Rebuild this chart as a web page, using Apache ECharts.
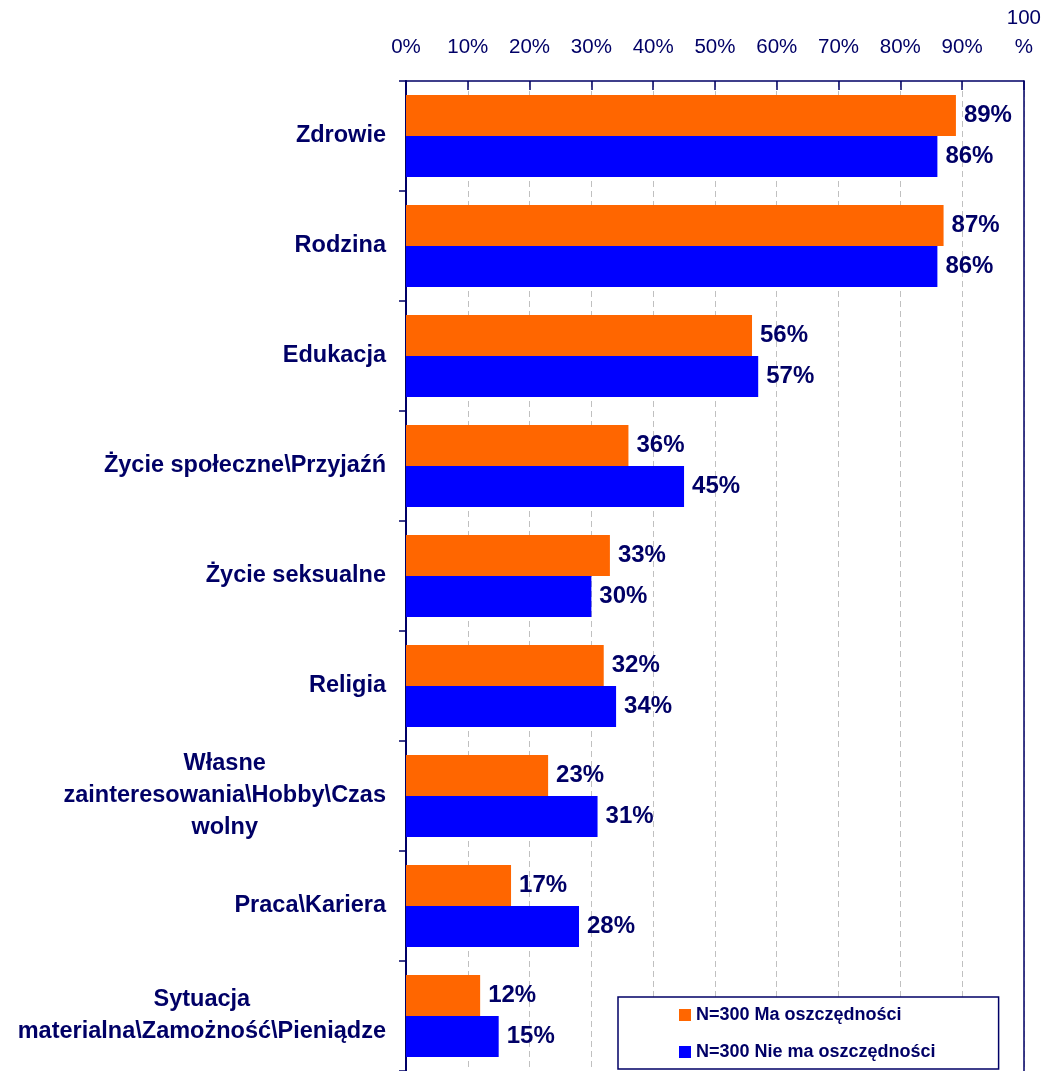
<!DOCTYPE html>
<html>
<head>
<meta charset="utf-8">
<script src="https://cdn.jsdelivr.net/npm/echarts@6/dist/echarts.min.js"></script>
<style>
  html, body { margin: 0; padding: 0; background: #fff; }
  #chart { width: 1044px; height: 1071px; }
</style>
</head>
<body>
<div id="chart"></div>
<script>
  'use strict';

  var kategorie = [
    'Zdrowie',
    'Rodzina',
    'Edukacja',
    'Życie społeczne\\Przyjaźń',
    'Życie seksualne',
    'Religia',
    'Własne\nzainteresowania\\Hobby\\Czas\nwolny',
    'Praca\\Kariera',
    'Sytuacja\nmaterialna\\Zamożność\\Pieniądze'
  ];
  var maOszczednosci = [89, 87, 56, 36, 33, 32, 23, 17, 12];
  var nieMaOszczednosci = [86, 86, 57, 45, 30, 34, 31, 28, 15];
  var nazwySerii = ['N=300 Ma oszczędności', 'N=300 Nie ma oszczędności'];

  var granat = '#000066';
  var czcionka = "'Liberation Sans', Arial, sans-serif";

  var myChart = echarts.init(document.getElementById('chart'));

  var etykietaSlupka = {
    show: true,
    position: 'right',
    distance: 8,
    formatter: '{c}%',
    fontFamily: czcionka,
    fontSize: 24,
    fontWeight: 'bold',
    color: granat
  };

  var option = {
    animation: false,
    color: ['#FF6600', '#0000FF'],
    grid: {
      left: 406,
      right: 20,
      top: 81,
      height: 994
    },
    legend: {
      orient: 'vertical',
      left: 618,
      top: 997,
      padding: [8, 63, 7, 61],
      icon: 'rect',
      itemWidth: 12,
      itemHeight: 12,
      itemGap: 17,
      backgroundColor: '#fff',
      borderColor: granat,
      borderWidth: 1.5,
      textStyle: {
        fontFamily: czcionka,
        fontSize: 18,
        fontWeight: 'bold',
        color: granat,
        lineHeight: 20
      },
      data: nazwySerii
    },
    xAxis: {
      type: 'value',
      position: 'top',
      min: 0,
      max: 100,
      interval: 10,
      axisLine: { show: true, lineStyle: { color: granat, width: 1.5 } },
      axisTick: { show: true, inside: true, length: 9, lineStyle: { color: granat, width: 1.5 } },
      splitLine: { show: true, lineStyle: { color: '#C0C0C0', type: [6, 4], width: 1 } },
      axisLabel: {
        margin: 19,
        fontFamily: czcionka,
        fontSize: 20.5,
        color: granat,
        lineHeight: 29,
        formatter: function(v) {
          return v === 100 ? '100\n%' : v + '%';
        }
      }
    },
    yAxis: [{
        type: 'category',
        inverse: true,
        data: kategorie,
        axisLine: { show: true, lineStyle: { color: granat, width: 2 } },
        axisTick: { show: true, length: 7, lineStyle: { color: granat, width: 1.5 } },
        axisLabel: {
          margin: 20,
          formatter: function(v) {
            return v.split('\n').map(function(s) {
              return '{c|' + s + '}';
            }).join('\n');
          },
          rich: {
            c: {
              align: 'center',
              fontFamily: czcionka,
              fontSize: 23.5,
              fontWeight: 'bold',
              color: granat,
              lineHeight: 32
            }
          }
        }
      },
      {
        // prawa krawedz wykresu
        type: 'category',
        position: 'right',
        inverse: true,
        data: kategorie,
        axisLine: { show: true, lineStyle: { color: granat, width: 1.5 } },
        axisTick: { show: false },
        axisLabel: { show: false }
      }
    ],
    series: [{
        name: nazwySerii[0],
        type: 'bar',
        barWidth: 41,
        barGap: '0%',
        label: etykietaSlupka,
        data: maOszczednosci
      },
      {
        name: nazwySerii[1],
        type: 'bar',
        barWidth: 41,
        barGap: '0%',
        label: etykietaSlupka,
        data: nieMaOszczednosci
      }
    ]
  };

  myChart.setOption(option);
</script>
</body>
</html>
